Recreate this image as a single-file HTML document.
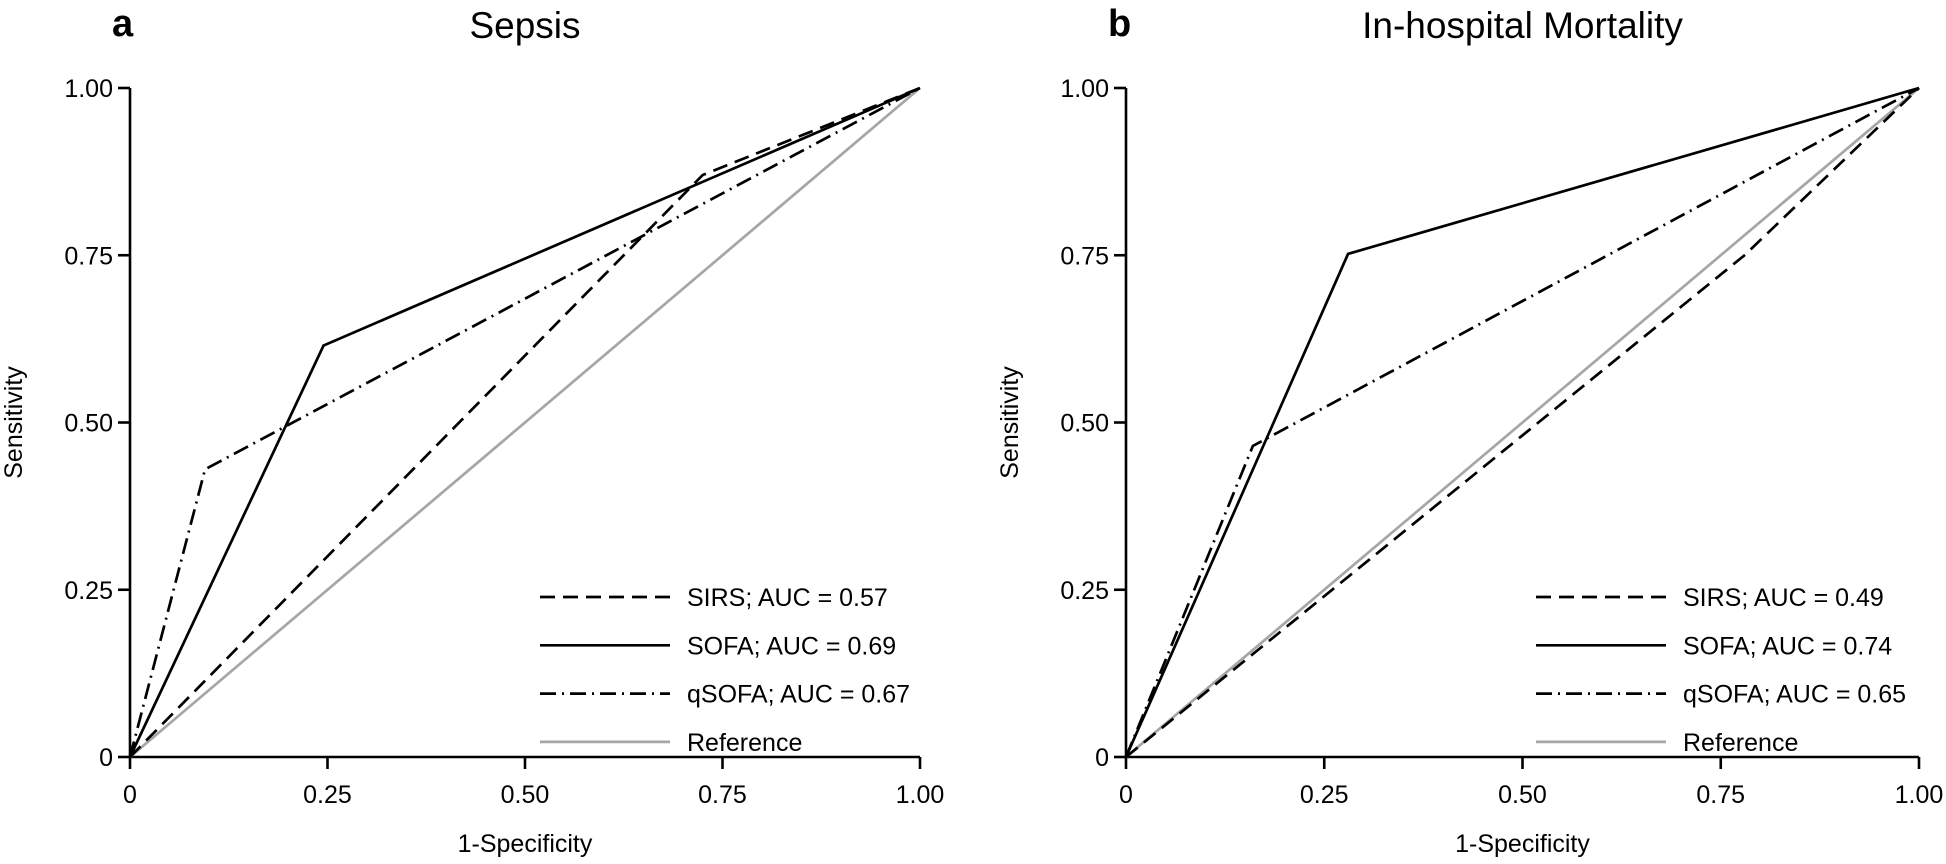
<!DOCTYPE html>
<html><head><meta charset="utf-8"><style>
body{margin:0;background:#fff}
svg text{font-family:"Liberation Sans",Arial,sans-serif;fill:#000}
</style></head><body>
<svg id="chart" width="1946" height="859" viewBox="0 0 1946 859" xmlns="http://www.w3.org/2000/svg"></svg>
<script>
const ticks=[0,0.25,0.5,0.75,1];
const tickLabels=["0","0.25","0.50","0.75","1.00"];
const panelTitles=["Sepsis","In-hospital Mortality"];
const panelLetters=["a","b"];
const seriesNames=["SIRS","SOFA","qSOFA","Reference"];
const aucA=["0.57","0.69","0.67"];
const aucB=["0.49","0.74","0.65"];
// panel a (Sepsis)
const aSirsX=[0,0.725,1], aSirsY=[0,0.87,1];
const aSofaX=[0,0.245,1], aSofaY=[0,0.615,1];
const aQsofaX=[0,0.095,1], aQsofaY=[0,0.43,1];
// panel b (Mortality)
const bSirsX=[0,0.78,1], bSirsY=[0,0.75,1];
const bSofaX=[0,0.28,1], bSofaY=[0,0.752,1];
const bQsofaX=[0,0.16,1], bQsofaY=[0,0.465,1];
const refX=[0,1], refY=[0,1];

const NS="http://www.w3.org/2000/svg";
const svg=document.getElementById('chart');
function mk(tag,attrs,parent){const e=document.createElementNS(NS,tag);for(const k in attrs)e.setAttribute(k,attrs[k]);(parent||svg).appendChild(e);return e;}
const styles=[
 {stroke:"#000",dash:"15 8"},
 {stroke:"#000",dash:""},
 {stroke:"#000",dash:"16 6 2 6"},
 {stroke:"#a6a6a6",dash:""}];
const panels=[
 {x0:130,x1:920,sets:[[aSirsX,aSirsY],[aSofaX,aSofaY],[aQsofaX,aQsofaY],[refX,refY]],auc:aucA},
 {x0:1126,x1:1919,sets:[[bSirsX,bSirsY],[bSofaX,bSofaY],[bQsofaX,bQsofaY],[refX,refY]],auc:aucB}];
const yTop=88,yBot=757;
panels.forEach((p,pi)=>{
 const g=mk('g',{});
 
 
 const sx=v=>p.x0+v*(p.x1-p.x0), sy=v=>yBot-v*(yBot-yTop);
 const L=mk('text',{x:p.x0-18,y:36,'font-size':38,'font-weight':'bold'},g);L.textContent=panelLetters[pi];
 
 const T=mk('text',{x:(p.x0+p.x1)/2,y:38,'font-size':37,'text-anchor':'middle'},g);T.textContent=panelTitles[pi];
 
 const ax=mk('path',{d:`M${p.x0},${sy(1)}V${yBot}H${p.x1}`,stroke:'#000','stroke-width':2.6,fill:'none'},g);
 
 ticks.forEach((t,i)=>{
  mk('line',{x1:p.x0-12,x2:p.x0,y1:sy(t),y2:sy(t),stroke:'#000','stroke-width':2.6},g);
  const yl=mk('text',{x:p.x0-17,y:sy(t)+9,'font-size':25,'text-anchor':'end'},g);yl.textContent=tickLabels[i];
  
  mk('line',{x1:sx(t),x2:sx(t),y1:yBot,y2:yBot+12,stroke:'#000','stroke-width':2.6},g);
  const xl=mk('text',{x:sx(t),y:yBot+46,'font-size':25,'text-anchor':'middle'},g);xl.textContent=tickLabels[i];
  
 });
 const xt=mk('text',{x:(p.x0+p.x1)/2,y:852,'font-size':25,'text-anchor':'middle'},g);xt.textContent='1-Specificity';
 
 const yt=mk('text',{x:0,y:0,'font-size':25,'text-anchor':'middle',transform:`translate(${p.x0-108},${(yTop+yBot)/2}) rotate(-90)`},g);yt.textContent='Sensitivity';
 
 [3,0,1,2].forEach(si=>{
  const [xs,ys]=p.sets[si];
  const d=xs.map((x,i)=>(i?'L':'M')+sx(x)+','+sy(ys[i])).join('');
  const pl=mk('path',{d:d,stroke:styles[si].stroke,'stroke-width':2.7,fill:'none','stroke-dasharray':styles[si].dash},g);
  
  
 });
 const lx=p.x0+410;
 seriesNames.forEach((n,i)=>{
  const y=597+i*48.3;
  const ll=mk('line',{x1:lx,x2:lx+130,y1:y,y2:y,stroke:styles[i].stroke,'stroke-width':2.7,'stroke-dasharray':styles[i].dash},g);
  
  const lt=mk('text',{x:lx+147,y:y+9,'font-size':25},g);
  lt.textContent=i<3?`${n}; AUC = ${p.auc[i]}`:n;
  
 });
});
</script>
</body></html>
